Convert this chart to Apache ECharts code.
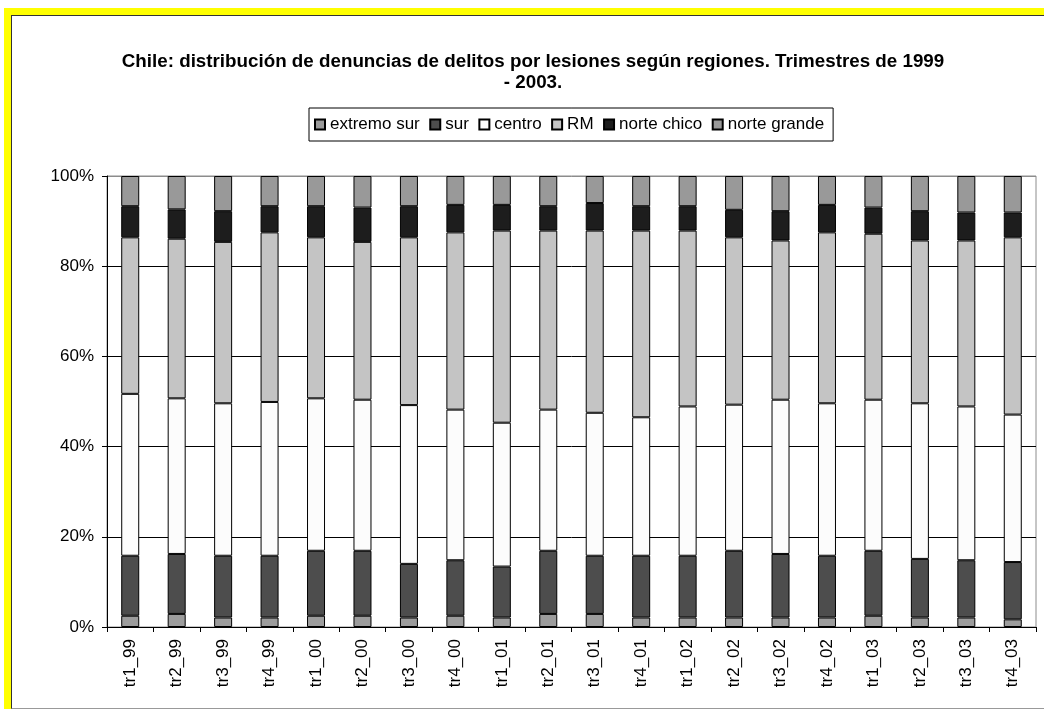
<!DOCTYPE html>
<html>
<head>
<meta charset="utf-8">
<script src="https://cdn.jsdelivr.net/npm/echarts@6/dist/echarts.min.js"></script>
<style>
  body { margin: 0; background: #fff; }
  #frame {
    position: absolute; left: 4px; top: 8px; width: 1040px; height: 701px;
    box-sizing: border-box; border-top: 7px solid #ffff00; border-left: 7px solid #ffff00;
  }
  #inner {
    position: absolute; left: 11px; top: 15px; right: 0; bottom: 0;
    border-top: 1px solid #333; border-left: 1px solid #333; border-bottom: 1px solid #999;
  }
  #chart { position: absolute; left: 0; top: 0; width: 1044px; height: 709px; }
</style>
</head>
<body>
<div id="frame"></div>
<div id="inner"></div>
<div id="chart"></div>
<script>
// trimestres
const categories = ['tr1_99', 'tr2_99', 'tr3_99', 'tr4_99', 'tr1_00', 'tr2_00', 'tr3_00', 'tr4_00',
  'tr1_01', 'tr2_01', 'tr3_01', 'tr4_01', 'tr1_02', 'tr2_02', 'tr3_02', 'tr4_02',
  'tr1_03', 'tr2_03', 'tr3_03', 'tr4_03'];

// % de denuncias por región
const extremoSur = [2.5, 2.9, 2.1, 2.1, 2.5, 2.5, 2.1, 2.5, 2.1, 2.9, 2.9, 2.1, 2.1, 2.1, 2.1, 2.1, 2.5, 2.1, 2.1, 1.7];
const sur = [13.3, 13.3, 13.7, 13.7, 14.4, 14.4, 11.9, 12.3, 11.3, 14.0, 12.9, 13.7, 13.7, 14.8, 14.1, 13.7, 14.4, 13.0, 12.7, 12.7];
const centro = [35.9, 34.5, 33.8, 34.1, 33.8, 33.5, 35.2, 33.4, 31.9, 31.3, 31.7, 30.7, 33.1, 32.4, 34.2, 33.8, 33.5, 34.5, 34.1, 32.7];
const rm = [34.7, 35.4, 35.8, 37.6, 35.7, 35.0, 37.2, 39.3, 42.6, 39.7, 40.4, 41.4, 39.0, 37.1, 35.3, 37.9, 36.8, 36.1, 36.8, 39.3];
const norteChico = [6.9, 6.5, 6.8, 5.8, 6.9, 7.6, 6.9, 6.1, 5.7, 5.4, 6.1, 5.4, 5.4, 6.1, 6.5, 6.1, 5.8, 6.5, 6.2, 5.5];
const norteGrande = [6.7, 7.4, 7.8, 6.7, 6.7, 7.0, 6.7, 6.4, 6.4, 6.7, 6.0, 6.7, 6.7, 7.5, 7.8, 6.4, 7.0, 7.8, 8.1, 8.1];

const seriesNames = ['extremo sur', 'sur', 'centro', 'RM', 'norte chico', 'norte grande'];
const seriesData = [extremoSur, sur, centro, rm, norteChico, norteGrande];
const seriesColors = ['#9c9c9c', '#4d4d4d', '#fcfcfc', '#c4c4c4', '#1d1d1d', '#999999'];

const font = "'Liberation Sans', Arial, sans-serif";

const myChart = echarts.init(document.getElementById('chart'));

const option = {
  animation: false,
  backgroundColor: 'transparent',
  textStyle: { fontFamily: font },
  title: {
    text: 'Chile: distribución de denuncias de delitos por lesiones según regiones. Trimestres de 1999\n- 2003.',
    left: 528,
    top: 46,
    textAlign: 'center',
    textStyle: { fontFamily: font, fontSize: 18.8, fontWeight: 'bold', color: '#000', lineHeight: 21, align: 'center' }
  },
  legend: {
    left: 309,
    top: 108,
    padding: [8, 9, 8, 5],
    itemGap: 9.5,
    itemWidth: 10,
    itemHeight: 10,
    icon: 'rect',
    borderColor: '#000',
    borderWidth: 1,
    textStyle: { fontFamily: font, fontSize: 17, color: '#000' },
    data: seriesNames
  },
  grid: {
    left: 107,
    right: 8,
    top: 176,
    bottom: 82,
    show: true,
    borderColor: '#8c8c8c',
    borderWidth: 1
  },
  xAxis: {
    type: 'category',
    data: categories,
    axisLine: { lineStyle: { color: '#000', width: 1 } },
    axisTick: { show: true, length: 5, lineStyle: { color: '#000' } },
    axisLabel: { rotate: 90, margin: 12, fontSize: 17, color: '#000', fontFamily: font }
  },
  yAxis: {
    type: 'value',
    min: 0,
    max: 100,
    interval: 20,
    axisLine: { show: true, lineStyle: { color: '#000', width: 1 } },
    axisTick: { show: true, length: 5, lineStyle: { color: '#000' } },
    axisLabel: { formatter: '{value}%', margin: 13, fontSize: 17, color: '#000', fontFamily: font },
    splitLine: { show: true, lineStyle: { color: ['#000', '#000', '#000', '#000', '#000', '#8c8c8c'], width: 1 } }
  },
  series: seriesNames.map((name, i) => ({
    name: name,
    type: 'bar',
    stack: 'total',
    barWidth: 18,
    data: seriesData[i],
    itemStyle: { color: seriesColors[i], borderColor: '#000', borderWidth: 1 }
  }))
};

myChart.setOption(option);
</script>
</body>
</html>
